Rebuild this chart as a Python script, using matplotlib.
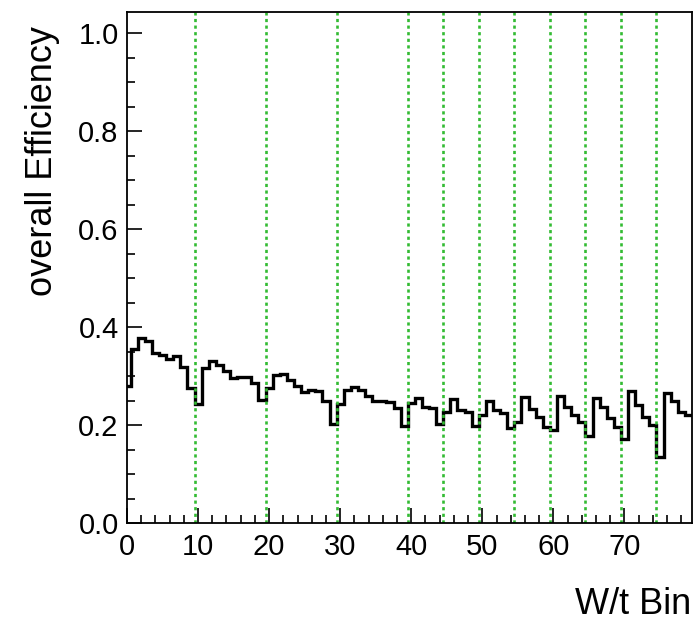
import numpy as np
import matplotlib
matplotlib.use("Agg")
import matplotlib.pyplot as plt
from matplotlib.ticker import MultipleLocator, FormatStrFormatter

plt.rcParams['font.family'] = ['Liberation Sans', 'DejaVu Sans']

# Efficiency per W/t bin (bins centred on integers 0..79)
bin_values = [
    0.280, 0.355, 0.377, 0.372, 0.348, 0.342, 0.335, 0.340, 0.319, 0.276,
    0.242, 0.316, 0.331, 0.322, 0.310, 0.296, 0.297, 0.298, 0.286, 0.251,
    0.276, 0.302, 0.304, 0.292, 0.279, 0.268, 0.272, 0.269, 0.248, 0.203,
    0.242, 0.271, 0.278, 0.271, 0.259, 0.248, 0.249, 0.246, 0.234, 0.197,
    0.244, 0.256, 0.237, 0.234, 0.202, 0.227, 0.253, 0.231, 0.227, 0.197,
    0.220, 0.249, 0.231, 0.224, 0.193, 0.207, 0.258, 0.232, 0.216, 0.195,
    0.189, 0.260, 0.237, 0.220, 0.206, 0.178, 0.256, 0.236, 0.215, 0.195,
    0.172, 0.270, 0.241, 0.217, 0.200, 0.134, 0.265, 0.250, 0.226, 0.220,
]
bin_edges = np.arange(-0.5, 80.5, 1.0)
divider_positions = [9.5, 19.5, 29.5, 39.5, 44.5, 49.5, 54.5, 59.5, 64.5, 69.5, 74.5]
x_major_ticks = [0, 10, 20, 30, 40, 50, 60, 70]

fig = plt.figure(figsize=(6.99, 6.26), dpi=100)
ax = fig.add_axes([127/699, 1-523/626, (692-127)/699, (523-12)/626])

ax.stairs(bin_values, bin_edges, color='black', linewidth=2.4, baseline=None)

for xv in divider_positions:
    ax.axvline(xv, color='#33bb33', linewidth=1.9, linestyle=(0, (1.2, 1.3)))

ax.set_xlim(0, 79.5)
ax.set_ylim(0, 1.043)

ax.set_xticks(x_major_ticks)
ax.set_xticklabels([str(v) for v in x_major_ticks])
ax.xaxis.set_minor_locator(MultipleLocator(2))
ax.yaxis.set_major_locator(MultipleLocator(0.2))
ax.yaxis.set_minor_locator(MultipleLocator(0.05))
ax.yaxis.set_major_formatter(FormatStrFormatter('%.1f'))

ax.tick_params(axis='both', which='both', direction='in', width=1.2,
               top=False, right=False, labelsize=21)
ax.tick_params(axis='x', which='major', length=11, pad=7)
ax.tick_params(axis='x', which='minor', length=6)
ax.tick_params(axis='y', which='major', length=11, pad=6)
ax.tick_params(axis='y', which='minor', length=6)

for s in ax.spines.values():
    s.set_linewidth(1.3)

fig.text(43/699, 1-26/626, 'overall Efficiency', rotation=90,
         ha='center', va='top', fontsize=26)
fig.text(691/699, 1-605/626, 'W/t Bin', ha='right', va='center', fontsize=26)

fig.savefig('out.png', dpi=100)
